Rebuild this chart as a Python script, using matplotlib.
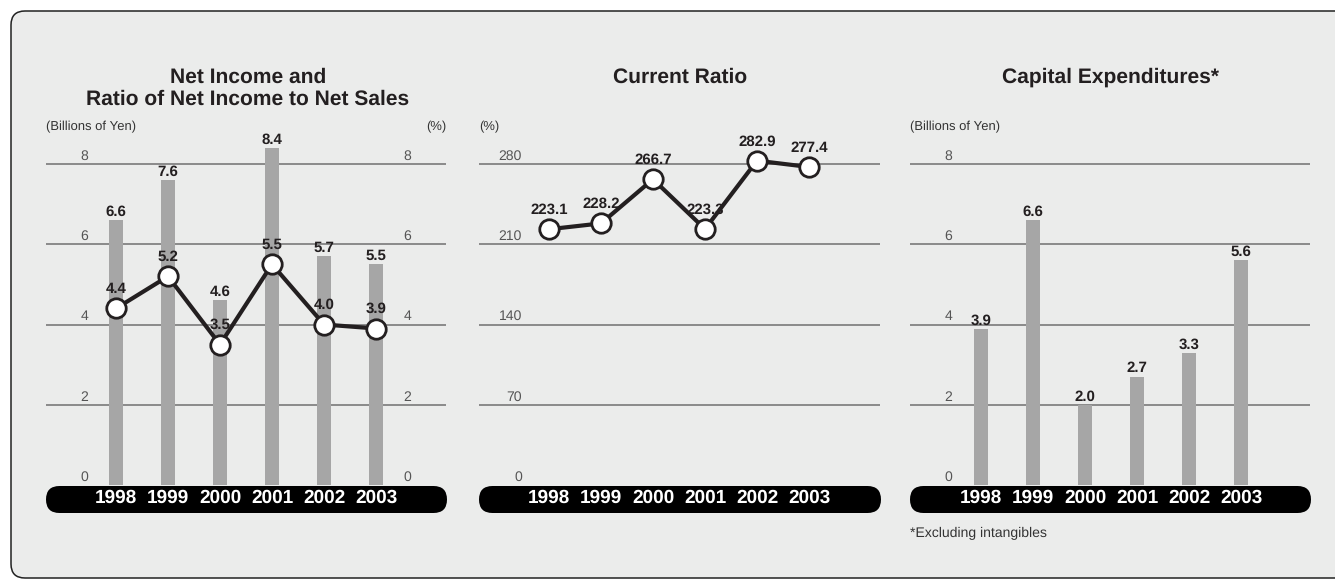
import matplotlib
matplotlib.use('Agg')
import matplotlib.pyplot as plt
from matplotlib.patches import FancyBboxPatch

plt.rcParams['font.family'] = ['Liberation Sans', 'DejaVu Sans']
plt.rcParams['text.hinting'] = 'no_hinting'
plt.rcParams['text.hinting_factor'] = 1

# data
years = ['1998', '1999', '2000', '2001', '2002', '2003']
net_income = [6.6, 7.6, 4.6, 8.4, 5.7, 5.5]          # billions of yen
income_ratio = [4.4, 5.2, 3.5, 5.5, 4.0, 3.9]        # % of net sales
current_ratio = [223.1, 228.2, 266.7, 223.3, 282.9, 277.4]
capex = [3.9, 6.6, 2.0, 2.7, 3.3, 5.6]               # billions of yen
yen_ticks = [0, 2, 4, 6, 8]
pct_ticks = [0, 2, 4, 6, 8]
ratio_ticks = [0, 70, 140, 210, 280]

W, H = 1335, 579
BG = '#ebeceb'
BAR = '#a6a6a6'
GRID = '#707070'
DARK = '#231f20'
TICK = '#555555'

fig = plt.figure(figsize=(W / 100, H / 100), dpi=100)
fig.patch.set_facecolor('white')

# background in pixel coords
bg = fig.add_axes([0, 0, 1, 1], zorder=0)
bg.set_xlim(0, W)
bg.set_ylim(H, 0)
bg.axis('off')
bg.add_patch(FancyBboxPatch((11, 11), 1400, 567, boxstyle='round,pad=0,rounding_size=14',
                            fc=BG, ec='#222222', lw=1.1))


def px_axes(left, right, top, bottom):
    ax = fig.add_axes([left / W, 1 - bottom / H, (right - left) / W, (bottom - top) / H], zorder=2)
    ax.set_facecolor('none')
    for s in ax.spines.values():
        s.set_visible(False)
    return ax


def setup(ax, ticks, ymax, x0, xlab=0.105, right_ticks=None, xr=0.9125):
    # pill behind the year labels
    l, b, w, h = ax.get_position().bounds
    bg.add_patch(FancyBboxPatch((l * W, 486), w * W + 1, 27, boxstyle='round,pad=0,rounding_size=13.5',
                                fc='black', ec='none'))
    ax.set_xlim(x0, x0 + w * W / 52.0)
    ax.set_ylim(0, ymax)
    ax.set_yticks([])
    ax.set_xticks(range(len(years)))
    ax.set_xticklabels(years, fontweight='bold', color='white', fontsize=13.5)
    ax.tick_params(axis='x', length=0, pad=3)
    for t in ticks:
        if t > 0:
            ax.axhline(t, color=GRID, lw=1.1, zorder=0)
        ax.annotate(str(t), xy=(xlab, t), xycoords=('axes fraction', 'data'), xytext=(0, 3),
                    textcoords='offset points', ha='right', va='baseline', fontsize=10, color=TICK)
    if right_ticks:
        for t in right_ticks:
            ax.annotate(str(t), xy=(xr, t), xycoords=('axes fraction', 'data'), xytext=(0, 3),
                        textcoords='offset points', ha='right', va='baseline', fontsize=10, color=TICK)


def bars(ax, vals):
    ax.bar(range(len(vals)), vals, width=0.26, color=BAR, zorder=2)
    for i, v in enumerate(vals):
        ax.annotate(f'{v:.1f}', xy=(i, v), xytext=(0, 3), textcoords='offset points',
                    ha='center', va='baseline', fontsize=11, fontweight='bold', color=DARK, zorder=5)


def line(ax, vals):
    ax.plot(range(len(vals)), vals, color=DARK, lw=3, marker='o', ms=14, mfc='white',
            mec=DARK, mew=2, zorder=4, solid_joinstyle='miter')
    for i, v in enumerate(vals):
        ax.annotate(f'{v:.1f}', xy=(i, v), xytext=(0, 11), textcoords='offset points',
                    ha='center', va='baseline', fontsize=11, fontweight='bold', color=DARK, zorder=5)


# panel 1: net income and ratio
ax1 = px_axes(46, 446, 125, 485)
setup(ax1, yen_ticks, 360 / 40.125, -70 / 52.0, right_ticks=pct_ticks)
bars(ax1, net_income)
ax1b = ax1.twinx()
ax1b.set_ylim(ax1.get_ylim())
ax1b.set_xlim(ax1.get_xlim())
ax1b.axis('off')
line(ax1b, income_ratio)

# panel 2: current ratio
ax2 = px_axes(479, 880, 125, 485)
setup(ax2, ratio_ticks, 360 / (321 / 280.0), -70 / 52.0, xlab=0.107)
line(ax2, current_ratio)

# panel 3: capex
ax3 = px_axes(910, 1310, 125, 485)
setup(ax3, yen_ticks, 360 / 40.125, -71 / 52.0)
bars(ax3, capex)

# titles and unit labels
tkw = dict(ha='center', va='center', fontsize=15, fontweight='bold', color=DARK)
bg.text(248, 77, 'Net Income and', **tkw)
bg.text(248, 99, 'Ratio of Net Income to Net Sales', **tkw)
bg.text(680, 77, 'Current Ratio', **tkw)
bg.text(1110, 77, 'Capital Expenditures*', **tkw)

ukw = dict(va='center', fontsize=9.6, color='#333333')
bg.text(46, 127, '(Billions of Yen)', ha='left', **ukw)
bg.text(446, 127, '(%)', ha='right', **ukw)
bg.text(479, 127, '(%)', ha='left', **ukw)
bg.text(910, 127, '(Billions of Yen)', ha='left', **ukw)
bg.text(910, 533, '*Excluding intangibles', ha='left', va='center', fontsize=10, color='#333333')

fig.savefig('out.png', dpi=100, facecolor='white')
